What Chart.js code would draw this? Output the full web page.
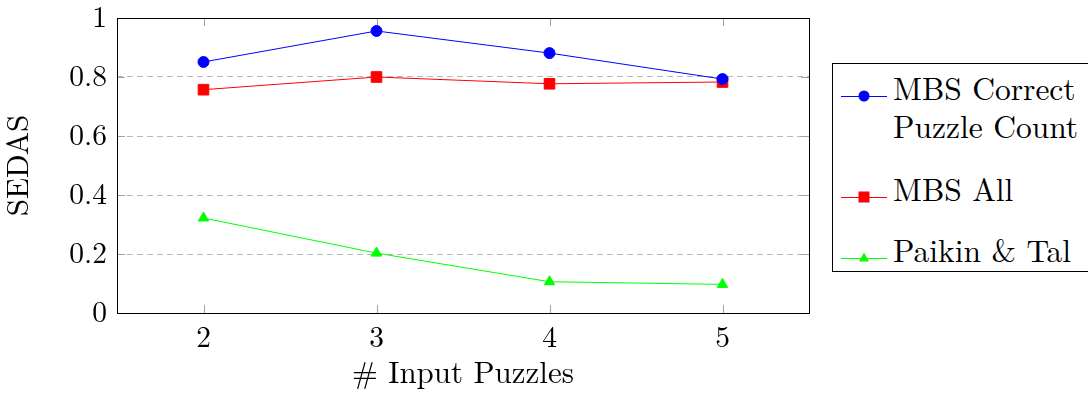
<!DOCTYPE html>
<html>
<head>
<meta charset="utf-8">
<script src="https://cdn.jsdelivr.net/npm/chart.js@4"></script>
<style>
  body { margin: 0; background: #fff; overflow: hidden; }
  #wrap { position: relative; width: 1088px; height: 398px; overflow: hidden; }
  #legend {
    position: absolute; left: 832px; top: 63px; width: 270px; height: 207px;
    border: 1px solid #000; background: #fff;
    font-family: "Latin Modern Roman", "Liberation Serif"; font-size: 31.5px; color: #000;
  }
  .item { position: absolute; left: 0; }
  .item svg { position: absolute; left: 8px; }
  .item span { position: absolute; left: 60px; white-space: nowrap; line-height: 38px; }
</style>
</head>
<body>
<div id="wrap">
  <canvas id="myChart" width="1088" height="398"></canvas>
  <div id="legend"></div>
</div>
<script>
const categories = ["2", "3", "4", "5"];
const mbsCorrect = [0.851, 0.956, 0.881, 0.793];
const mbsAll = [0.757, 0.800, 0.777, 0.783];
const paikinTal = [0.322, 0.203, 0.106, 0.097];
const yTicks = [0, 0.2, 0.4, 0.6, 0.8, 1];

const serif = "'Latin Modern Roman', 'Liberation Serif'";
const tickSize = 29.5;
const titleSize = 31;

// frame + small inner ticks like pgfplots
const framePlugin = {
  id: "frame",
  beforeDatasetsDraw(chart) {
    const { ctx, chartArea: a, scales } = chart;
    ctx.save();
    ctx.strokeStyle = "#a0a0a0";
    ctx.lineWidth = 1;
    ctx.beginPath();
    categories.forEach((c, i) => {
      const x = Math.round(scales.x.getPixelForValue(i)) + 0.5;
      ctx.moveTo(x, a.bottom); ctx.lineTo(x, a.bottom - 8);
      ctx.moveTo(x, a.top); ctx.lineTo(x, a.top + 8);
    });
    yTicks.forEach(v => {
      const y = Math.round(scales.y.getPixelForValue(v)) + 0.5;
      ctx.moveTo(a.left, y); ctx.lineTo(a.left + 8, y);
      ctx.moveTo(a.right, y); ctx.lineTo(a.right - 8, y);
    });
    ctx.stroke();
    ctx.strokeStyle = "#000";
    ctx.strokeRect(Math.round(a.left) + 0.5, Math.round(a.top) + 0.5,
      Math.round(a.right - a.left), Math.round(a.bottom - a.top));
    ctx.restore();
  }
};

const data = {
  labels: categories,
  datasets: [
    {
      label: "MBS Correct Puzzle Count",
      data: mbsCorrect,
      borderColor: "#0000ff",
      backgroundColor: "#0000ff",
      pointStyle: "circle",
      pointRadius: 5.5,
      borderWidth: 1,
      tension: 0,
    },
    {
      label: "MBS All",
      data: mbsAll,
      borderColor: "#ff0000",
      backgroundColor: "#ff0000",
      pointStyle: "rect",
      pointRadius: 7.5,
      borderWidth: 1,
      tension: 0,
    },
    {
      label: "Paikin & Tal",
      data: paikinTal,
      borderColor: "#00ff00",
      backgroundColor: "#00ff00",
      pointStyle: "triangle",
      pointRadius: 6,
      borderWidth: 1,
      tension: 0,
    },
  ],
};

const config = {
  type: "line",
  data: data,
  options: {
    responsive: false,
    animation: false,
    layout: { padding: { top: 18, right: 279, left: 0, bottom: 0 } },
    plugins: {
      legend: { display: false },
      tooltip: { enabled: false },
    },
    scales: {
      x: {
        type: "category",
        offset: true,
        grid: { display: false, drawTicks: false },
        border: { display: false },
        ticks: { color: "#000", font: { family: serif, size: tickSize }, padding: 7 },
        title: {
          display: true,
          text: "# Input Puzzles",
          color: "#000",
          font: { family: serif, size: titleSize },
          padding: { top: 0, bottom: 6 },
        },
        afterFit(scale) { scale.height = 85; scale.paddingLeft = 0; scale.paddingRight = 0; },
      },
      y: {
        min: 0,
        max: 1,
        afterBuildTicks(scale) { scale.ticks = yTicks.map(v => ({ value: v })); },
        grid: {
          color: ctx => (ctx.tick && (ctx.tick.value === 0 || ctx.tick.value === 1)) ? "rgba(0,0,0,0)" : "#b8b8b8",
          drawTicks: false,
          lineWidth: 1,
        },
        border: { display: false, dash: [6, 4] },
        ticks: {
          color: "#000",
          font: { family: serif, size: tickSize },
          padding: 10,
          callback: v => String(v),
        },
        title: {
          display: true,
          text: "SEDAS",
          color: "#000",
          font: { family: serif, size: titleSize },
          padding: { top: 0, bottom: 6 },
        },
        afterFit(scale) { scale.width = 117; scale.paddingTop = 0; scale.paddingBottom = 0; },
      },
    },
  },
  plugins: [framePlugin],
};

const myChart = new Chart(document.getElementById("myChart"), config);

// legend in html, same colours and markers
const legendItems = [
  { lines: ["MBS Correct", "Puzzle Count"], color: "#0000ff", shape: "circle", top: 32 },
  { lines: ["MBS All"], color: "#ff0000", shape: "rect", top: 133 },
  { lines: ["Paikin & Tal"], color: "#00ff00", shape: "triangle", top: 194 },
];
const legendEl = document.getElementById("legend");
legendItems.forEach(it => {
  const div = document.createElement("div");
  div.className = "item";
  div.style.top = it.top + "px";
  let marker = "";
  if (it.shape === "circle") marker = `<circle cx="23" cy="10" r="5.5" fill="${it.color}"/>`;
  if (it.shape === "rect") marker = `<rect x="17.5" y="4.5" width="11" height="11" fill="${it.color}"/>`;
  if (it.shape === "triangle") marker = `<polygon points="23,4.5 28,13.5 18,13.5" fill="${it.color}"/>`;
  div.innerHTML = `<svg width="46" height="20" style="top:-10px"><line x1="0" y1="10.5" x2="46" y2="10.5" stroke="${it.color}" stroke-width="1"/>${marker}</svg>` +
    it.lines.map((t, i) => `<span style="top:${-28 + i * 38}px">${t.replace("&", "&amp;")}</span>`).join("");
  legendEl.appendChild(div);
});

// redraw once the font is ready
document.fonts.load(tickSize + "px 'Latin Modern Roman'").then(() => myChart.update());
</script>
</body>
</html>
